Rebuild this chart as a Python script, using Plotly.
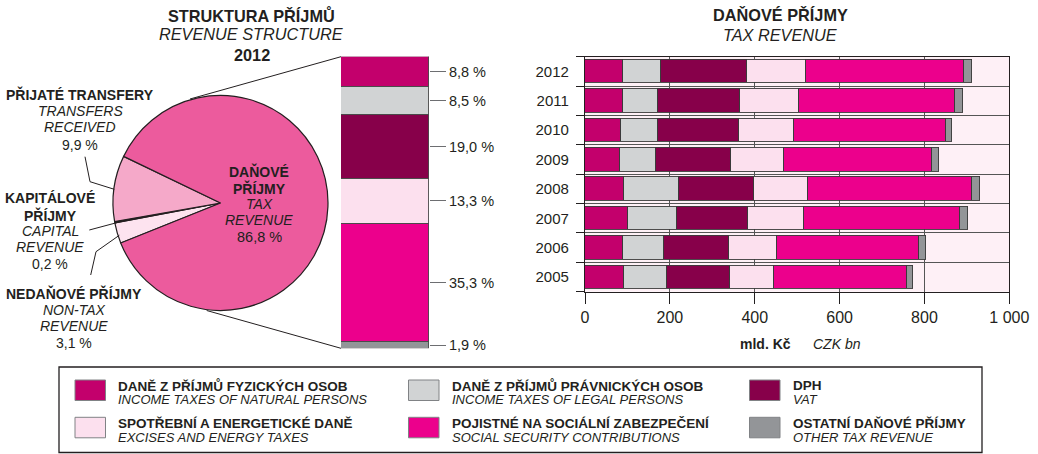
import plotly.graph_objects as go
import numpy as np

W, H = 1038, 454
FONT = "Liberation Sans, Arial, Helvetica, sans-serif"
TXT = "#231f20"

# ---------------- data ----------------
pie_labels = ["Daňové příjmy", "Přijaté transfery", "Kapitálové příjmy", "Nedaňové příjmy"]
pie_values = [86.8, 9.9, 0.2, 3.1]
pie_colors = ["#ec5b9d", "#f5a9c9", "#5a0a35", "#fde3ef"]

series_cz = ["DANĚ Z PŘÍJMŮ FYZICKÝCH OSOB", "DANĚ Z PŘÍJMŮ PRÁVNICKÝCH OSOB", "DPH",
             "SPOTŘEBNÍ A ENERGETICKÉ DANĚ", "POJISTNÉ NA SOCIÁLNÍ ZABEZPEČENÍ", "OSTATNÍ DAŇOVÉ PŘÍJMY"]
series_en = ["INCOME TAXES OF NATURAL PERSONS", "INCOME TAXES OF LEGAL PERSONS", "VAT",
             "EXCISES AND ENERGY TAXES", "SOCIAL SECURITY CONTRIBUTIONS", "OTHER TAX REVENUE"]
series_colors = ["#c3006c", "#d1d3d4", "#87004a", "#fce0ee", "#ec008c", "#939598"]

shares_2012 = [8.8, 8.5, 19.0, 13.3, 35.3, 1.9]

years = [2005, 2006, 2007, 2008, 2009, 2010, 2011, 2012]
income_natural = [93, 90, 101, 93, 83, 86, 89, 90]
income_legal = [101, 95, 115, 128, 84, 87, 83, 89]
vat = [147, 155, 168, 178, 178, 189, 194, 202]
excise = [104, 112, 131, 127, 123, 131, 138, 140]
social = [313, 335, 369, 386, 349, 358, 368, 373]
other = [14, 17, 19, 20, 17, 15, 20, 19]
series_values = [income_natural, income_legal, vat, excise, social, other]

x_ticks = [0, 200, 400, 600, 800, 1000]
x_ticktext = ["0", "200", "400", "600", "800", "1 000"]


def pct(v):
    return f"{v:.1f}".replace(".", ",") + " %"


def px(x):
    return x / W


def py(y):
    return 1 - y / H


fig = go.Figure()

# ---------------- pie ----------------
small = sum(pie_values[1:])
start_angle = -64.3 - small / 100 * 360  # clockwise from 12 o'clock
fig.add_trace(go.Pie(
    labels=pie_labels[::-1], values=pie_values[::-1], sort=False,
    direction="clockwise", rotation=start_angle,
    marker=dict(colors=pie_colors[::-1], line=dict(color=TXT, width=1.2)),
    textinfo="none", hoverinfo="label+value", showlegend=False,
    domain=dict(x=[px(113), px(328)], y=[py(310.5), py(95.5)]),
))

# ---------------- horizontal stacked bars ----------------
for name, vals, col in zip(series_cz, series_values, series_colors):
    fig.add_trace(go.Bar(
        x=vals, y=years, orientation="h", name=name, width=0.8,
        marker=dict(color=col, line=dict(color="#3a3a3a", width=0.9)),
        xaxis="x", yaxis="y", showlegend=False,
    ))

# ---------------- 2012 structure column ----------------
for name, v, col in list(zip(series_cz, shares_2012, series_colors))[::-1]:
    fig.add_trace(go.Bar(
        x=[0], y=[v], name=name, width=1,
        marker=dict(color=col, line=dict(color="#4a4a4a", width=0.9)),
        xaxis="x2", yaxis="y2", showlegend=False,
    ))

rev = shares_2012[::-1]
cum = np.cumsum(rev)
centers = list(cum - np.array(rev) / 2)
col_total = float(cum[-1])

fig.update_layout(
    width=W, height=H, margin=dict(l=0, r=0, t=0, b=0, autoexpand=False),
    paper_bgcolor="white", plot_bgcolor="#fef0f6",
    barmode="stack", bargap=0,
    font=dict(family=FONT, color=TXT),
    xaxis=dict(domain=[px(585), px(1009.3)], range=[0, 1000], tickvals=x_ticks,
               ticktext=x_ticktext, ticks="outside", ticklen=11, tickcolor=TXT,
               showgrid=True, gridcolor="#555555", gridwidth=1, zeroline=False,
               showline=True, linecolor=TXT, linewidth=1.3, mirror=True,
               tickfont=dict(size=16, color=TXT), anchor="y", automargin=False),
    yaxis=dict(domain=[py(291.7), py(56.7)], range=[2004.5, 2012.5], tickvals=years,
               ticktext=[str(y) for y in years], ticks="outside", ticklen=12,
               tickcolor="rgba(0,0,0,0)", showgrid=False, zeroline=False,
               showline=True, linecolor=TXT, linewidth=1.3, mirror=True,
               minor=dict(tick0=2004.5, dtick=1, ticks="outside", ticklen=8,
                          tickcolor=TXT, showgrid=True, gridcolor="#555555", gridwidth=1),
               tickfont=dict(size=15, color=TXT), anchor="x", automargin=False),
    xaxis2=dict(domain=[px(341), px(429)], range=[-0.5, 0.5], visible=False, anchor="y2",
                automargin=False),
    yaxis2=dict(domain=[py(348.3), py(56.7)], range=[0, col_total], side="right",
                anchor="x2", tickvals=centers, ticktext=[pct(v) for v in rev],
                ticks="outside", ticklen=16, tickcolor="#6d6e71", tickwidth=1.2,
                showgrid=False, zeroline=False, showline=False,
                tickfont=dict(size=14.5, color=TXT), automargin=False),
)

# ---------------- text ----------------
def txt(x, y, text, size, bold=False, italic=False, xanchor="center"):
    if bold:
        text = f"<b>{text}</b>"
    if italic:
        text = f"<i>{text}</i>"
    fig.add_annotation(x=px(x), y=py(y), xref="paper", yref="paper", text=text,
                       showarrow=False, xanchor=xanchor, yanchor="middle",
                       font=dict(size=size, color=TXT, family=FONT))

# titles
T = 16.3
txt(251.7, 15, "STRUKTURA PŘÍJMŮ", T, bold=True)
txt(251.7, 34.3, "REVENUE STRUCTURE", T, italic=True)
txt(251.7, 55, "2012", T, bold=True)
txt(780, 15, "DAŇOVÉ PŘÍJMY", T, bold=True)
txt(780, 34.7, "TAX REVENUE", T, italic=True)
txt(765, 344, "mld. Kč", 14, bold=True)
txt(837, 344, "CZK bn", 14, italic=True)

# pie labels
S = 14
txt(80, 94, "PŘIJATÉ TRANSFERY", S, bold=True)
txt(80, 110.7, "TRANSFERS", S, italic=True)
txt(80, 126.7, "RECEIVED", S, italic=True)
txt(80, 145, pct(pie_values[1]), S)

txt(50, 198.3, "KAPITÁLOVÉ", S, bold=True)
txt(50, 215, "PŘÍJMY", S, bold=True)
txt(50, 230.7, "CAPITAL", S, italic=True)
txt(50, 246.7, "REVENUE", S, italic=True)
txt(50, 264.3, pct(pie_values[2]), S)

txt(74, 293.3, "NEDAŇOVÉ PŘÍJMY", S, bold=True)
txt(74, 310, "NON-TAX", S, italic=True)
txt(74, 325.5, "REVENUE", S, italic=True)
txt(74, 343.3, pct(pie_values[3]), S)

txt(259, 171.7, "DAŇOVÉ", S, bold=True)
txt(259, 188.3, "PŘÍJMY", S, bold=True)
txt(259, 204, "TAX", S, italic=True)
txt(259, 220, "REVENUE", S, italic=True)
txt(259, 237.3, pct(pie_values[0]), S + 0.5)

# ---------------- decorative lines ----------------
def pline(points, color=TXT, width=1):
    path = "M " + " L ".join(f"{px(a)},{py(b)}" for a, b in points)
    fig.add_shape(type="path", path=path, xref="paper", yref="paper",
                  line=dict(color=color, width=width))

pline([(341, 56.7), (190, 99)])
pline([(341, 348.3), (206.7, 310.5)])
pline([(85, 156.7), (90, 181.7), (114.3, 189.3)])
pline([(89.3, 230), (116.7, 222.7)])
pline([(90.7, 275), (96, 251.7), (119.3, 235.3)])

# ---------------- legend ----------------
fig.add_shape(type="rect", xref="paper", yref="paper", x0=px(59), x1=px(982),
              y0=py(452.5), y1=py(367), line=dict(color=TXT, width=1.3))
col_x = [75, 408.5, 749.5]
row_y = [380, 417.3]
order = [(0, 0), (0, 1), (0, 2), (1, 0), (1, 1), (1, 2)]
for i, (r, c) in enumerate(order):
    x0 = col_x[c]
    y0 = row_y[r]
    fig.add_shape(type="rect", xref="paper", yref="paper", x0=px(x0), x1=px(x0 + 30.5),
                  y0=py(y0 + 20.5), y1=py(y0), fillcolor=series_colors[i],
                  line=dict(color="#808285", width=1))
    txt(x0 + 41, y0 + 5.7, series_cz[i], 13.5, bold=True, xanchor="left")
    txt(x0 + 41, y0 + 19.7, series_en[i], 13, italic=True, xanchor="left")

fig.write_html(
    "out.html",
    config={"displayModeBar": False},
    post_script="document.body.style.margin='0';document.body.style.overflow='hidden';"
                "document.documentElement.style.overflow='hidden';",
)
